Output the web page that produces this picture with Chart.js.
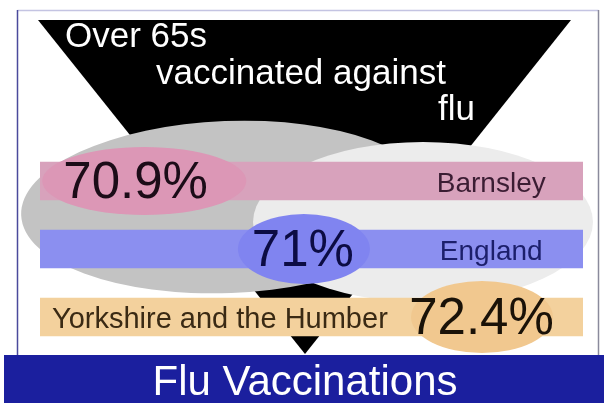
<!DOCTYPE html>
<html>
<head>
<meta charset="utf-8">
<title>Flu Vaccinations</title>
<script src="https://cdn.jsdelivr.net/npm/chart.js@4"></script>
<style>
  body { margin: 0; background: #fff; }
</style>
</head>
<body>
<canvas id="chart" width="604" height="403"></canvas>
<script>
const areas = ["Barnsley", "England", "Yorkshire and the Humber"];
const uptake = [70.9, 71, 72.4];
const titleLines = ["Over 65s", "vaccinated against", "flu"];
const footer = "Flu Vaccinations";

const FONT = '"Liberation Sans", Arial, sans-serif';

const barColors = ["#d8a2bc", "#8b8ff0", "#f3d19d"];
const blobColors = ["#dc97b6", "#8084f0", "#f1c88f"];
const valueColors = ["#1c0c18", "#0c0c44", "#1a1208"];
const nameColors = ["#3b1d33", "#1c1f6b", "#3a2a14"];
// where things sit along each bar, in % of the bar length
const valuePos = [17.6, 48.4, 81.3];
const blobPos = [19.2, 48.6, 81.4];
const blobSize = [[102, 34], [66, 35], [71, 36]];
const namePos = [83.1, 83.1, 2.2];
const nameAlign = ["center", "center", "left"];
const nameSize = [28, 28, 29];

function ellipse(ctx, x, y, rx, ry, color, rot) {
  ctx.fillStyle = color;
  ctx.beginPath();
  ctx.ellipse(x, y, rx, ry, rot || 0, 0, Math.PI * 2);
  ctx.fill();
}

function line(ctx, x1, y1, x2, y2, color) {
  ctx.strokeStyle = color;
  ctx.beginPath();
  ctx.moveTo(x1, y1);
  ctx.lineTo(x2, y2);
  ctx.stroke();
}

const backdrop = {
  id: "backdrop",
  beforeDraw(chart) {
    const ctx = chart.ctx;
    ctx.save();
    ctx.fillStyle = "#fff";
    ctx.fillRect(0, 0, chart.width, chart.height);

    // frame
    ctx.lineWidth = 1.5;
    line(ctx, 17.5, 10.5, 598.5, 10.5, "#c4c4e2");
    line(ctx, 17.5, 10, 17.5, 356, "#4a4a9c");
    line(ctx, 598.5, 10, 598.5, 356, "#8a8a9c");

    // funnel
    ctx.fillStyle = "#000";
    ctx.beginPath();
    ctx.moveTo(38, 20);
    ctx.lineTo(571, 20);
    ctx.lineTo(305, 354);
    ctx.closePath();
    ctx.fill();

    // grey clouds behind the bars
    ellipse(ctx, 228, 207, 207, 86, "#c3c3c3", -0.04);
    ellipse(ctx, 423, 222, 170, 80, "#ececec");

    ctx.fillStyle = "#fff";
    ctx.font = "35px " + FONT;
    ctx.textBaseline = "alphabetic";
    ctx.fillText(titleLines[0], 65, 47);
    ctx.fillText(titleLines[1], 156, 84);
    ctx.fillText(titleLines[2], 438, 120);
    ctx.restore();
  },
  afterDatasetsDraw(chart) {
    const ctx = chart.ctx;
    const xs = chart.scales.x;
    const bars = chart.getDatasetMeta(0).data;
    ctx.save();
    ctx.textBaseline = "alphabetic";
    bars.forEach((bar, i) => {
      const y = bar.y;
      ellipse(ctx, xs.getPixelForValue(blobPos[i]), y, blobSize[i][0], blobSize[i][1], blobColors[i]);

      ctx.fillStyle = valueColors[i];
      ctx.font = "51px " + FONT;
      ctx.textAlign = "center";
      ctx.fillText(uptake[i] + "%", xs.getPixelForValue(valuePos[i]), y + 17);

      ctx.fillStyle = nameColors[i];
      ctx.font = nameSize[i] + "px " + FONT;
      ctx.textAlign = nameAlign[i];
      ctx.fillText(areas[i], xs.getPixelForValue(namePos[i]), y + 11);
    });
    ctx.restore();
  },
  afterDraw(chart) {
    const ctx = chart.ctx;
    ctx.save();
    ctx.fillStyle = "#1b1f9e";
    ctx.fillRect(4, 355, chart.width - 4, chart.height - 355);
    ctx.fillStyle = "#fff";
    ctx.font = "42px " + FONT;
    ctx.textAlign = "center";
    ctx.fillText(footer, 305, 395);
    ctx.restore();
  }
};

new Chart(document.getElementById("chart"), {
  type: "bar",
  data: {
    labels: areas,
    datasets: [
      {
        // each bar is a full 0-100% track, the uptake is written on it
        data: areas.map(() => [0, 100]),
        backgroundColor: barColors,
        borderWidth: 0,
        barThickness: 38,
      },
    ],
  },
  options: {
    indexAxis: "y",
    responsive: false,
    animation: false,
    layout: { padding: { left: 40, right: 21, top: 147, bottom: 52 } },
    scales: {
      x: { min: 0, max: 100, display: false },
      y: { display: false },
    },
    plugins: {
      legend: { display: false },
      tooltip: { enabled: false },
    },
  },
  plugins: [backdrop],
});
</script>
</body>
</html>
